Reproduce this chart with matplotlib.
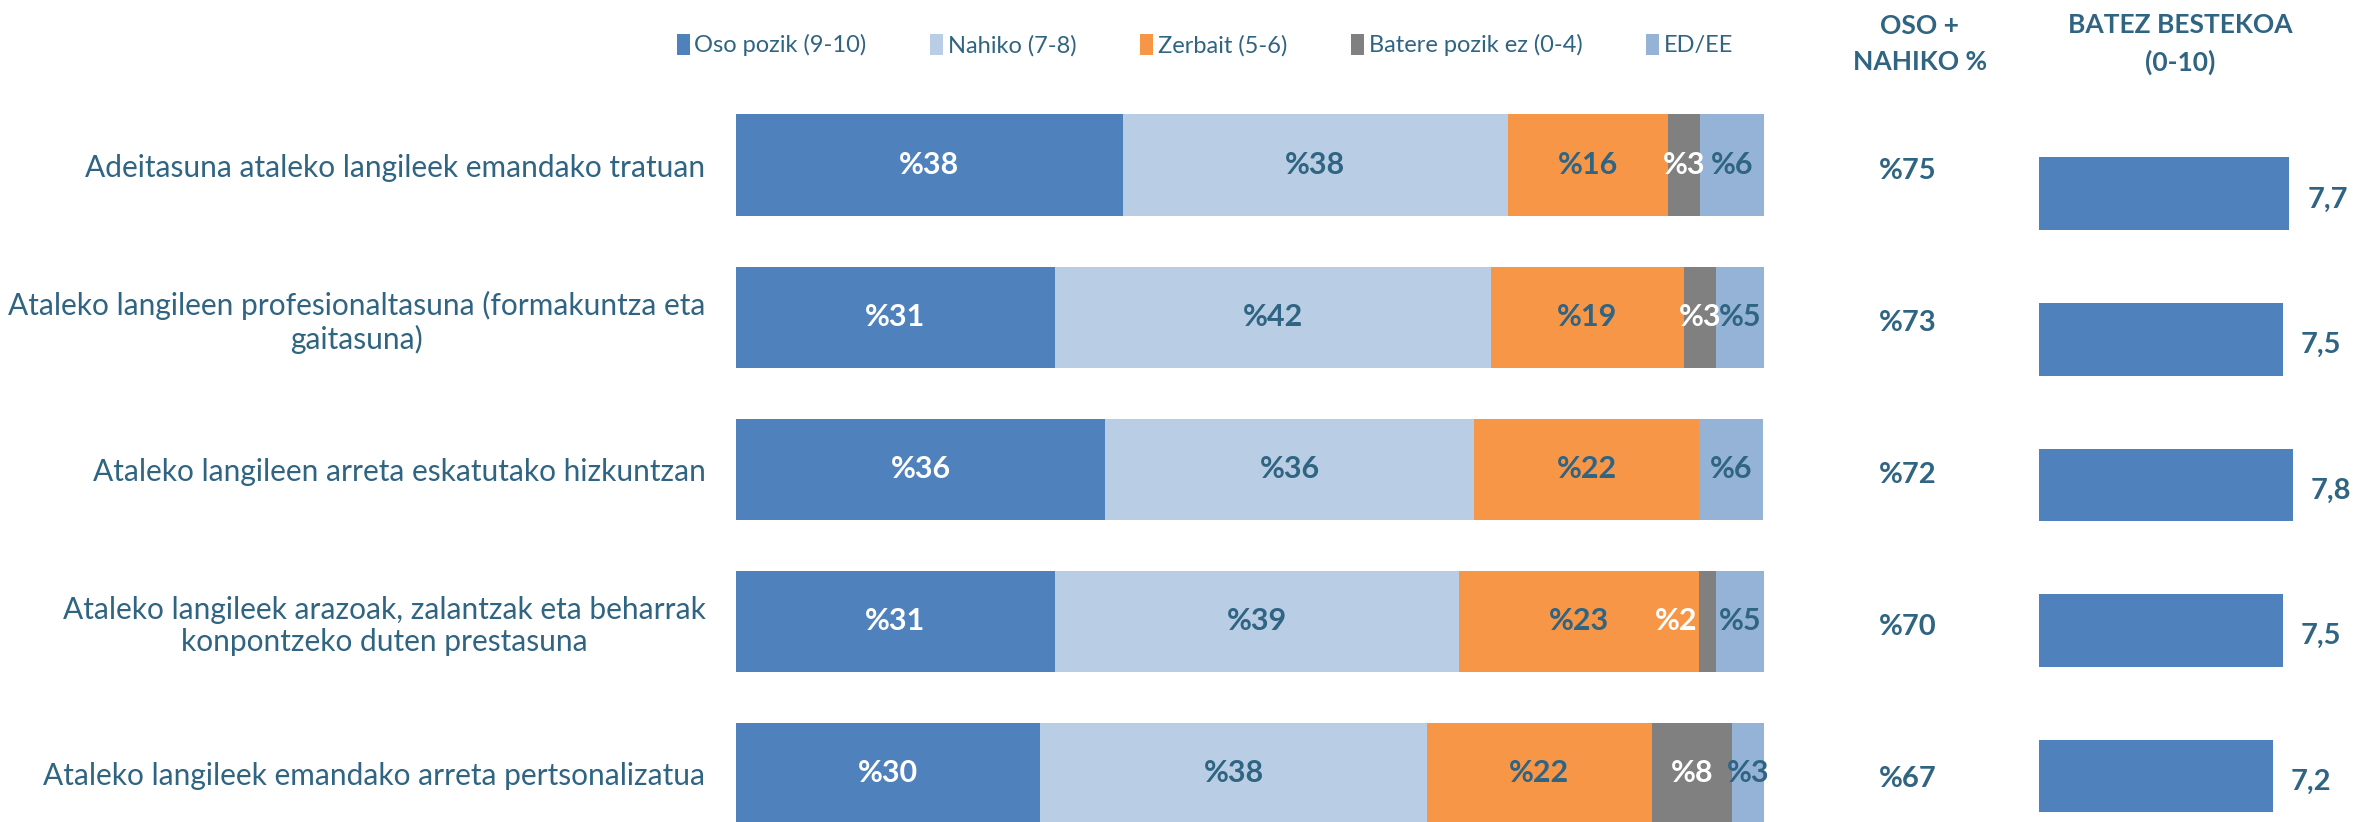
import matplotlib
matplotlib.use("Agg")
import matplotlib.pyplot as plt
from matplotlib.patches import Patch
import matplotlib.transforms as mtransforms

plt.rcParams["font.family"] = ["Lato", "DejaVu Sans"]

# --- data -------------------------------------------------------------
categories = [
    "Adeitasuna ataleko langileek emandako tratuan",
    "Ataleko langileen profesionaltasuna (formakuntza eta\ngaitasuna)",
    "Ataleko langileen arreta eskatutako hizkuntzan",
    "Ataleko langileek arazoak, zalantzak eta beharrak\nkonpontzeko duten prestasuna",
    "Ataleko langileek emandako arreta pertsonalizatua",
]
series_names = ["Oso pozik (9-10)", "Nahiko (7-8)", "Zerbait (5-6)",
                "Batere pozik ez (0-4)", "ED/EE"]
oso_pozik = [37.6, 31.0, 35.9, 31.0, 29.6]
nahiko = [37.5, 42.4, 35.9, 39.3, 37.6]
zerbait = [15.6, 18.8, 21.9, 23.4, 21.9]
batere = [3.1, 3.1, 0.0, 1.6, 7.8]
ed_ee = [6.2, 4.7, 6.2, 4.7, 3.1]
oso_nahiko = [75, 73, 72, 70, 67]
batez_bestekoa = [7.7, 7.5, 7.8, 7.5, 7.2]

# --- style ------------------------------------------------------------
COLORS = ["#4F81BD", "#B9CDE5", "#F79646", "#808080", "#95B3D7"]
LABEL_COLORS = ["white", "#2F6482", "#2F6482", "white", "#2F6482"]
TEXT = "#2F6482"
LABEL_SHIFT = {(3, 3): -3.0}  # small grey segment label nudged left

W, H = 2374, 822
fig = plt.figure(figsize=(W / 100, H / 100), dpi=100)

# main stacked bars
ax = fig.add_axes([736 / W, 0, 1028 / W, (822 - 89) / H])
ypos = list(range(len(categories)))
left = [0.0] * len(categories)
handles = []
for s, values in enumerate([oso_pozik, nahiko, zerbait, batere, ed_ee]):
    ax.barh(ypos, values, left=left, height=0.665, color=COLORS[s], linewidth=0)
    for i, v in enumerate(values):
        if v > 0:
            x = left[i] + v / 2 + LABEL_SHIFT.get((i, s), 0.0)
            ax.text(x, i, f"%{round(v)}", ha="center", va="center",
                    fontsize=22, fontweight="bold", color=LABEL_COLORS[s])
    left = [l + v for l, v in zip(left, values)]
    handles.append(Patch(facecolor=COLORS[s], label=series_names[s]))

ax.set_xlim(0, 100)
ax.set_ylim(4.32, -0.5)
ax.set_yticks(ypos)
ax.set_yticklabels(categories, fontsize=21.5, color=TEXT)
for lbl in ax.get_yticklabels():
    lbl.set_multialignment("center")
ax.tick_params(axis="y", length=0, pad=22)
ax.set_xticks([])
for sp in ax.spines.values():
    sp.set_visible(False)

# OSO + NAHIKO column
trans = mtransforms.blended_transform_factory(fig.transFigure, ax.transData)
for i, v in enumerate(oso_nahiko):
    ax.text(1908 / W, i + 0.04, f"%{v}", transform=trans, ha="center", va="center",
            fontsize=21, fontweight="bold", color=TEXT)

# mean score bars
ax2 = fig.add_axes([2039 / W, 0, (W - 2039) / W, (822 - 121) / H])
ax2.barh(ypos, batez_bestekoa, height=0.5, color=COLORS[0], linewidth=0)
for i, v in enumerate(batez_bestekoa):
    ax2.text(v + 0.55, i + 0.04, f"{v:.1f}".replace(".", ","), ha="left", va="center",
             fontsize=21, fontweight="bold", color=TEXT)
ax2.set_xlim(0, 10.3)
ax2.set_ylim(4.316, -0.5)
ax2.axis("off")

# headers
fig.text(1920 / W, 1 - 44 / H, "OSO +\nNAHIKO %", ha="center", va="center",
         fontsize=19, fontweight="bold", color=TEXT, linespacing=1.6)
fig.text(2180 / W, 1 - 44 / H, "BATEZ BESTEKOA\n(0-10)", ha="center", va="center",
         fontsize=19, fontweight="bold", color=TEXT, linespacing=1.6)

# legend
leg = fig.legend(handles=handles, loc="center", bbox_to_anchor=(1205 / W, 1 - 45 / H),
                 ncol=5, frameon=False, fontsize=17, handlelength=0.55,
                 handleheight=1.0, handletextpad=0.2, columnspacing=2.7)
for t in leg.get_texts():
    t.set_color(TEXT)

fig.savefig("out.png", dpi=100, facecolor="white")
